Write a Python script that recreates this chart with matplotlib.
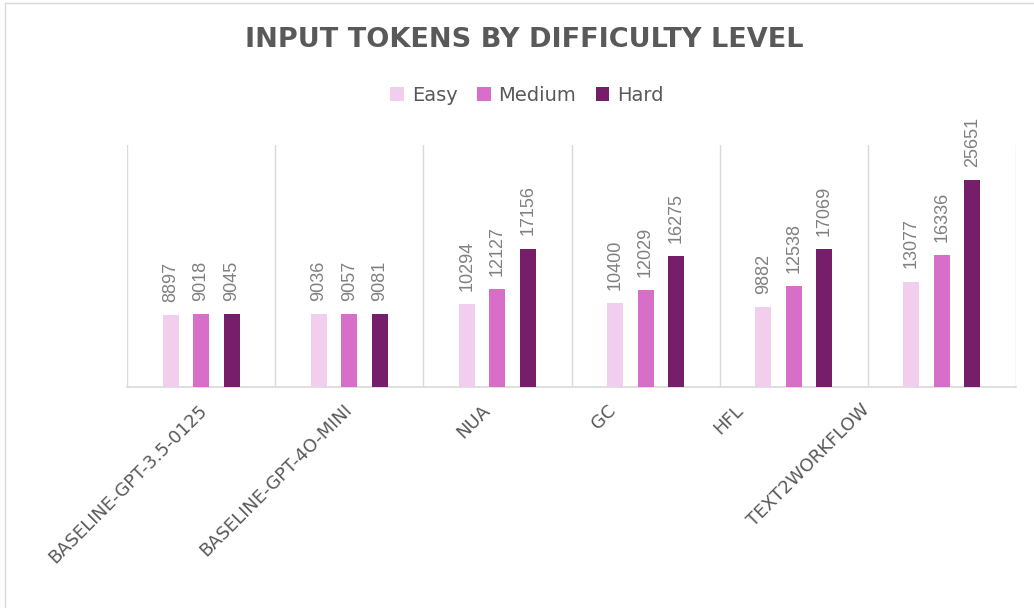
import numpy as np
import matplotlib
matplotlib.use('Agg')
import matplotlib.pyplot as plt
from matplotlib.lines import Line2D

# datos
categorias = ['BASELINE-GPT-3.5-0125', 'BASELINE-GPT-4O-MINI', 'NUA', 'GC', 'HFL', 'TEXT2WORKFLOW']
easy = [8897, 9036, 10294, 10400, 9882, 13077]
medium = [9018, 9057, 12127, 12029, 12538, 16336]
hard = [9045, 9081, 17156, 16275, 17069, 25651]
series = ['Easy', 'Medium', 'Hard']

colores = ['#F2CEEE', '#D76FC9', '#771E6B']
gris_txt = '#595959'
gris_lin = '#D9D9D9'

fig = plt.figure(figsize=(10.34, 6.08), dpi=100)
ax = fig.add_axes([127/1034, 1 - 387/608, (1016 - 127)/1034, (387 - 145)/608])

x = np.arange(len(categorias))
ancho = 0.108
paso = 0.206
barras = []
for k, (vals, nombre) in enumerate(zip([easy, medium, hard], series)):
    b = ax.bar(x + (k - 1) * paso, vals, ancho, color=colores[k], label=nombre, zorder=3)
    barras.append(b)
    # etiquetas de valor
    ax.bar_label(b, labels=[str(v) for v in vals], rotation=90, padding=9.5,
                 fontsize=13, color='#808080', family='Liberation Sans')

ax.set_xlim(-0.5, len(categorias) - 0.5)
ax.set_ylim(0, 30000)
ax.set_yticks([])

# lineas entre categorias
ax.set_xticks(np.arange(-0.5, len(categorias)), minor=True)
ax.grid(True, which='minor', axis='x', color=gris_lin, lw=1, zorder=0)
ax.tick_params(axis='x', which='both', length=0)
ax.set_xticks(x)
ax.set_xticklabels([])

for s in ['top', 'right', 'left']:
    ax.spines[s].set_visible(False)
ax.spines['bottom'].set_color(gris_lin)
ax.spines['bottom'].set_linewidth(1.2)

# etiquetas del eje x rotadas (desplazamiento en pixeles)
dx = [-3, -6, -16, -39, -60, -81]
for i, cat in enumerate(categorias):
    ax.annotate(cat, xy=(i, 0), xycoords=('data', 'axes fraction'),
                xytext=(dx[i] * 0.72, -14 * 0.72), textcoords='offset points',
                rotation=45, rotation_mode='anchor', ha='right', va='top',
                fontsize=13, color=gris_txt, family='DejaVu Sans')

# titulo
fig.text(0.507, 1 - 40/608, 'INPUT TOKENS BY DIFFICULTY LEVEL', ha='center', va='center',
         fontsize=19.5, fontweight='bold', color=gris_txt, family='DejaVu Sans')

# leyenda
fig.legend(handles=barras, labels=series, loc='center', ncol=3, frameon=False,
           bbox_to_anchor=(527/1034, 1 - 95/608), fontsize=14, labelcolor=gris_txt,
           handlelength=0.7, handleheight=0.7, handletextpad=0.4, columnspacing=1.0)

# marco del grafico (solo izquierda y arriba se ven)
fig.lines.append(Line2D([5/1034, 5/1034], [0, 1 - 3/608], color=gris_lin, lw=1,
                        transform=fig.transFigure))
fig.lines.append(Line2D([5/1034, 1], [1 - 3/608, 1 - 3/608], color=gris_lin, lw=1,
                        transform=fig.transFigure))

fig.savefig('out.png', dpi=100)
